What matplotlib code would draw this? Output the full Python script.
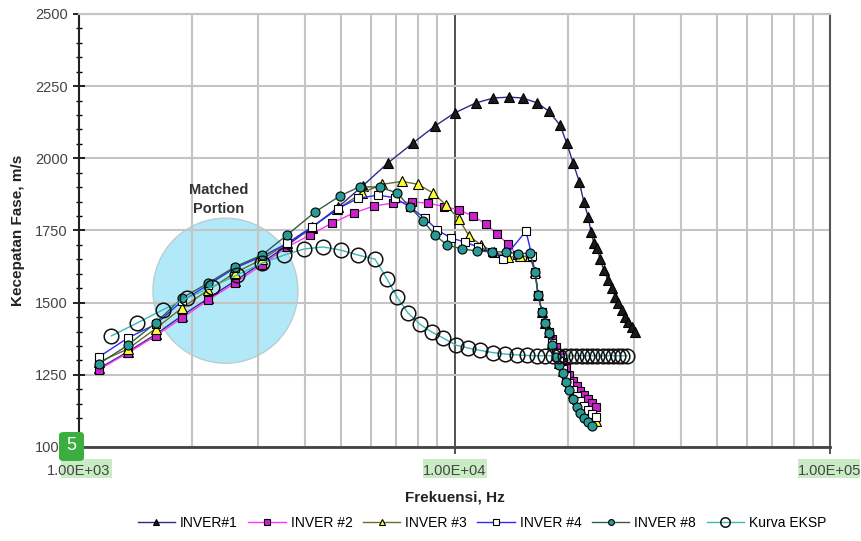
import numpy as np
import matplotlib
matplotlib.use("Agg")
import matplotlib.pyplot as plt
from matplotlib.patches import Ellipse, Rectangle, FancyBboxPatch
from matplotlib.ticker import FixedLocator, FuncFormatter, MultipleLocator, NullFormatter

plt.rcParams["font.family"] = ["Liberation Sans", "DejaVu Sans"]

# --- data (frequency in Hz, phase velocity in m/s) ---
low_f = [1130, 1350, 1600, 1880, 2210, 2600, 3070, 3580]
cliff_f = [16400, 16700, 17100, 17400, 17800, 18200, 18600, 19000, 19400,
           19800, 20200, 20700, 21200, 21600, 22100, 22700, 23200, 23800]

inv1_f = low_f + [4170, 4890, 5700, 6650, 7750, 8870, 10000, 11400, 12700, 14000,
                  15200, 16600, 17800, 19100, 19900, 20700, 21500, 22100, 22700,
                  23100, 23500, 24000, 24400, 25000, 25600, 26300, 26800, 27300,
                  27900, 28500, 29000, 29700, 30300]
inv1_v = [1272, 1330, 1390, 1455, 1515, 1575, 1638, 1698,
          1760, 1830, 1905, 1984, 2053, 2112, 2157, 2192, 2209, 2212,
          2209, 2192, 2164, 2115, 2053, 1984, 1918, 1849, 1797,
          1745, 1707, 1690, 1651, 1613, 1579, 1551, 1520, 1499,
          1475, 1450, 1433, 1416, 1398]

inv2_f = low_f + [4120, 4720, 5400, 6110, 6860, 7700, 8500, 9380, 10280, 11200,
                  12130, 12980, 13880, 14670, 15890] + cliff_f
inv2_v = [1268, 1326, 1385, 1447, 1509, 1568, 1631, 1693,
          1734, 1776, 1811, 1835, 1845, 1849, 1845, 1833, 1821, 1800,
          1773, 1738, 1703, 1665, 1658,
          1606, 1527, 1468, 1430, 1400, 1375, 1345, 1320, 1295,
          1272, 1250, 1230, 1210, 1195, 1180, 1165, 1153, 1138]

inv3_f = low_f + [4170, 4860, 5670, 6410, 7250, 8000, 8760, 9500, 10280, 10930,
                  11770, 12740, 13880, 14940, 15890] + cliff_f
inv3_v = [1294, 1340, 1410, 1482, 1544, 1603, 1650, 1705,
          1762, 1823, 1880, 1910, 1920, 1910, 1880, 1838, 1789, 1731,
          1700, 1675, 1658, 1660, 1660,
          1606, 1527, 1468, 1430, 1398, 1360, 1320, 1292, 1263,
          1236, 1212, 1188, 1165, 1148, 1130, 1115, 1100, 1090]

inv4_f = low_f + [4170, 4890, 5530, 6260, 6940, 7610, 8340, 8990, 9790, 10670,
                  11550, 12590, 13470, 15500, 16090] + cliff_f
inv4_v = [1312, 1378, 1425, 1505, 1562, 1620, 1660, 1705,
          1762, 1826, 1861, 1873, 1863, 1831, 1793, 1752, 1724, 1710,
          1693, 1676, 1651, 1748, 1660,
          1600, 1527, 1468, 1430, 1398, 1362, 1325, 1298, 1270,
          1245, 1222, 1198, 1178, 1160, 1143, 1128, 1115, 1105]

inv8_f = low_f + [4250, 4960, 5600, 6330, 7030, 7610, 8250, 8870, 9550, 10470,
                  11480, 12590, 13720, 14760, 15890] + cliff_f[:-1]
inv8_v = [1288, 1353, 1430, 1516, 1568, 1624, 1665, 1734,
          1814, 1870, 1902, 1900, 1880, 1831, 1783, 1734, 1700, 1686,
          1679, 1676, 1676, 1669, 1672,
          1606, 1527, 1468, 1430, 1395, 1355, 1312, 1284, 1256,
          1225, 1198, 1165, 1140, 1118, 1100, 1087, 1074]

eksp_f = [1220, 1430, 1670, 1940, 2260, 2640, 3070, 3520, 3980, 4470, 4990, 5530,
          6140, 6610, 7030, 7520, 8090, 8710, 9320, 10090, 10870, 11690, 12660,
          13630, 14670, 15600, 16590, 17420, 18300, 19000, 19700, 20400, 21100,
          21800, 22500, 23200, 24000, 24800, 25600, 26400, 27200, 28000, 28800]
eksp_v = [1385, 1430, 1475, 1516, 1555, 1596, 1637, 1665, 1686, 1693, 1682, 1665,
          1651, 1582, 1520, 1464, 1425, 1398, 1378, 1353, 1343, 1335, 1327,
          1322, 1319, 1317, 1316, 1316, 1316, 1316, 1316, 1316, 1316,
          1316, 1316, 1316, 1316, 1316, 1316, 1316, 1316, 1316, 1316]

labels = ["INVER#1", "INVER #2", "INVER #3", "INVER #4", "INVER #8", "Kurva EKSP"]

fig = plt.figure(figsize=(8.62, 5.41), dpi=100)
ax = fig.add_axes([79 / 862, 1 - 447 / 541, 751 / 862, 433 / 541])

lw = 1.0
ax.plot(inv1_f, inv1_v, color="#2b2b8c", lw=lw, marker="^", ms=7, mfc="#1a1a1a",
        mec="#000000", mew=0.8, label=labels[0], zorder=3)
ax.plot(inv2_f, inv2_v, color="#ff33ff", lw=lw, marker="s", ms=6, mfc="#cc22cc",
        mec="#000000", mew=0.8, label=labels[1], zorder=3)
ax.plot(inv3_f, inv3_v, color="#6b6b2a", lw=lw, marker="^", ms=6.5, mfc="#ffff33",
        mec="#000000", mew=0.8, label=labels[2], zorder=3)
ax.plot(inv4_f, inv4_v, color="#2a2aff", lw=lw, marker="s", ms=6, mfc="#ffffff",
        mec="#000000", mew=0.8, label=labels[3], zorder=3)
ax.plot(inv8_f, inv8_v, color="#2f5f3f", lw=lw, marker="o", ms=6.5, mfc="#2a9a96",
        mec="#000000", mew=0.8, label=labels[4], zorder=3)
ax.plot(eksp_f, eksp_v, color="#3cb8b8", lw=lw, marker="o", ms=10.5, mfc="none",
        mec="#111111", mew=1.1, label=labels[5], zorder=3)

ax.set_xscale("log")
ax.set_xlim(1e3, 1e5)
ax.set_ylim(1000, 2500)

ax.xaxis.set_major_locator(FixedLocator([1e3, 1e4, 1e5]))
ax.xaxis.set_major_formatter(FuncFormatter(lambda v, p: "%.2E" % v))
ax.xaxis.set_minor_locator(FixedLocator([m * 10 ** e for e in (3, 4) for m in range(2, 10)]))
ax.xaxis.set_minor_formatter(NullFormatter())
ax.yaxis.set_major_locator(MultipleLocator(250))
ax.yaxis.set_minor_locator(MultipleLocator(50))

ax.set_axisbelow(True)
ax.grid(True, which="minor", axis="x", color="#c4c4c4", lw=1.5)
ax.grid(True, which="major", axis="x", color="#333333", lw=1.2)
ax.grid(True, which="major", axis="y", color="#c4c4c4", lw=1.5)

ax.tick_params(axis="x", which="major", direction="out", length=5, width=1.2,
               colors="#333333", labelsize=10.5, labelcolor="#444444", pad=7)
ax.tick_params(axis="x", which="minor", length=0)
ax.tick_params(axis="y", which="major", direction="inout", length=8, width=1.2,
               labelsize=10.5, labelcolor="#444444", pad=4)
ax.tick_params(axis="y", which="minor", direction="inout", length=4, width=1.0)

ax.spines["left"].set_color("#222222")
ax.spines["left"].set_linewidth(1.5)
ax.spines["bottom"].set_color("#444444")
ax.spines["bottom"].set_linewidth(2)
ax.spines["right"].set_color("#555555")
ax.spines["right"].set_linewidth(1.5)
ax.spines["top"].set_color("#c4c4c4")
ax.spines["top"].set_linewidth(1.5)

# matched portion bubble
ax.add_patch(Ellipse((0.195, 0.361), 0.193, 0.335, transform=ax.transAxes,
                     facecolor="#b2e9f8", edgecolor="#b9cdd3", lw=1, zorder=0.3))
ax.text(0.186, 0.572, "Matched\nPortion", transform=ax.transAxes, ha="center",
        va="center", fontsize=10.5, fontweight="bold", color="#333333",
        linespacing=1.4)

fig.text(455 / 862, 1 - 497 / 541, "Frekuensi, Hz", ha="center", va="center",
         fontsize=11, fontweight="bold", color="#222222")
fig.text(18 / 862, 1 - 230 / 541, "Kecepatan Fase, m/s", ha="center", va="center",
         rotation=90, fontsize=11, fontweight="bold", color="#222222")

fig.legend(loc="center", bbox_to_anchor=(482 / 862, 1 - 523 / 541), ncol=6,
           frameon=False, fontsize=10, handlelength=2.7, handletextpad=0.35,
           columnspacing=0.75, borderaxespad=0, markerscale=0.65)

# green highlight marks over tick labels
for x0, x1 in [(61, 112), (423, 487), (798, 860)]:
    fig.patches.append(Rectangle((x0 / 862, 1 - 478 / 541), (x1 - x0) / 862, 19 / 541,
                                 transform=fig.transFigure, facecolor="#c9ecc4",
                                 edgecolor="none", zorder=-1))
fig.patches.append(FancyBboxPatch((59 / 862, 1 - 461 / 541), 25 / 862, 29 / 541,
                                  boxstyle="round,pad=0,rounding_size=0.006",
                                  transform=fig.transFigure, facecolor="#3aae3f",
                                  edgecolor="none", zorder=5))
fig.text(71.5 / 862, 1 - 446 / 541, "5", ha="center", va="center", fontsize=13,
         color="white", zorder=6)

fig.savefig("out.png", dpi=100)
